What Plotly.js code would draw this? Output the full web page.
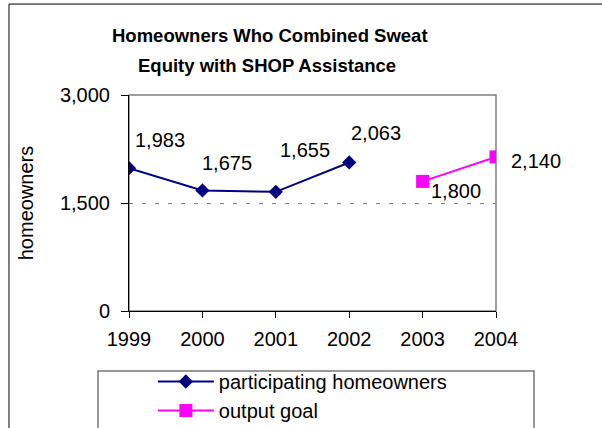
<!DOCTYPE html>
<html>
<head>
<meta charset="utf-8">
<script src="https://cdn.plot.ly/plotly-3.0.1.min.js"></script>
<style>html,body{margin:0;padding:0;background:#fff;}#chart{width:602px;height:428px;}</style>
</head>
<body>
<div id="chart"></div>
<script>
const years = ['1999', '2000', '2001', '2002', '2003', '2004'];
const actualYears = ['1999', '2000', '2001', '2002'];
const actualValues = [1983, 1675, 1655, 2063];
const goalYears = ['2003', '2004'];
const goalValues = [1800, 2140];
const yTicks = [0, 1500, 3000];
const yTickText = ['0', '1,500', '3,000'];
const seriesNames = ['participating homeowners', 'output goal'];
const titleLines = ['Homeowners Who Combined Sweat', 'Equity with SHOP Assistance'];
const yTitle = 'homeowners';

const FONT = 'Liberation Sans, Arial, sans-serif';
const FS = 20;
const fmt = v => v.toLocaleString('en-US');

// label offsets (styling only)
const actualOffsets = [[31, -28], [25, -27], [29, -42], [27, -29]];
const goalOffsets = [[33, 10], [40, 4]];

const annotations = [];
actualYears.forEach((yr, i) => {
  annotations.push({x: years.indexOf(yr), y: actualValues[i], xref: 'x', yref: 'y', text: fmt(actualValues[i]),
    showarrow: true, arrowcolor: 'rgba(0,0,0,0)', arrowwidth: 0.1, ax: actualOffsets[i][0], ay: actualOffsets[i][1],
    font: {family: FONT, size: FS, color: '#000'}});
});
goalYears.forEach((yr, i) => {
  annotations.push({x: years.indexOf(yr), y: goalValues[i], xref: 'x', yref: 'y', text: fmt(goalValues[i]),
    showarrow: true, arrowcolor: 'rgba(0,0,0,0)', arrowwidth: 0.1, ax: goalOffsets[i][0], ay: goalOffsets[i][1],
    font: {family: FONT, size: FS, color: '#000'}});
});
annotations.push({x: 0.384, y: 1.333, xref: 'paper', yref: 'paper', showarrow: false, text: titleLines[0],
  font: {family: FONT, size: 18.5, color: '#000', weight: 'bold'}});
annotations.push({x: 0.377, y: 1.194, xref: 'paper', yref: 'paper', showarrow: false, text: titleLines[1],
  font: {family: FONT, size: 18.5, color: '#000', weight: 'bold'}});

const traces = [
  {x: actualYears, y: actualValues, name: seriesNames[0], type: 'scatter', mode: 'lines+markers',
   line: {color: '#000080', width: 2}, marker: {symbol: 'diamond', size: 11, color: '#000080'}},
  {x: goalYears, y: goalValues, name: seriesNames[1], type: 'scatter', mode: 'lines+markers',
   line: {color: '#FF00FF', width: 2}, marker: {symbol: 'square', size: 13, color: '#FF00FF'}}
];

const layout = {
  width: 602, height: 428,
  margin: {l: 129, r: 106, t: 95, b: 117, autoexpand: false},
  paper_bgcolor: '#fff', plot_bgcolor: '#fff',
  font: {family: FONT, size: FS, color: '#000'},
  showlegend: true,
  legend: {x: 0.065, xanchor: 'left', y: -0.236, yanchor: 'top', orientation: 'v',
    itemwidth: 56, font: {family: FONT, size: FS, color: '#000'}, bgcolor: 'rgba(0,0,0,0)',
    borderwidth: 0, tracegroupgap: 0},
  xaxis: {type: 'category', categoryorder: 'array', categoryarray: years, tickvals: years,
    range: [0, years.length - 1], showline: true, linecolor: '#000', linewidth: 1,
    ticks: 'outside', ticklen: 6, tickcolor: '#000', ticklabelstandoff: 4, showgrid: false, zeroline: false,
    tickfont: {family: FONT, size: FS, color: '#000'}, fixedrange: true},
  yaxis: {range: [0, 3000], tickvals: yTicks, ticktext: yTickText, showline: true, linecolor: '#000',
    linewidth: 1, ticks: 'outside', ticklen: 7, tickcolor: '#000', ticklabelstandoff: 7,
    showgrid: true, gridcolor: '#808080', griddash: '4px,9px', gridwidth: 1, zeroline: false,
    tickfont: {family: FONT, size: FS, color: '#000'},
    title: {text: yTitle, font: {family: FONT, size: FS, color: '#000'}, standoff: 20}, fixedrange: true},
  shapes: [
    {type: 'rect', xref: 'paper', yref: 'paper', x0: 0, x1: 1, y0: 0, y1: 1, layer: 'below',
     line: {color: '#808080', width: 1.5}},
    {type: 'rect', xref: 'paper', yref: 'paper', x0: -0.0845, x1: 1.1035, y0: -0.62, y1: -0.2778,
     line: {color: '#777', width: 1.5}},
    {type: 'rect', xref: 'paper', yref: 'paper', x0: -0.327, x1: 1.32, y0: -0.62, y1: 1.421,
     line: {color: '#000', width: 1}}
  ],
  annotations: annotations
};

Plotly.newPlot('chart', traces, layout, {displayModeBar: false, staticPlot: true});
</script>
</body>
</html>
